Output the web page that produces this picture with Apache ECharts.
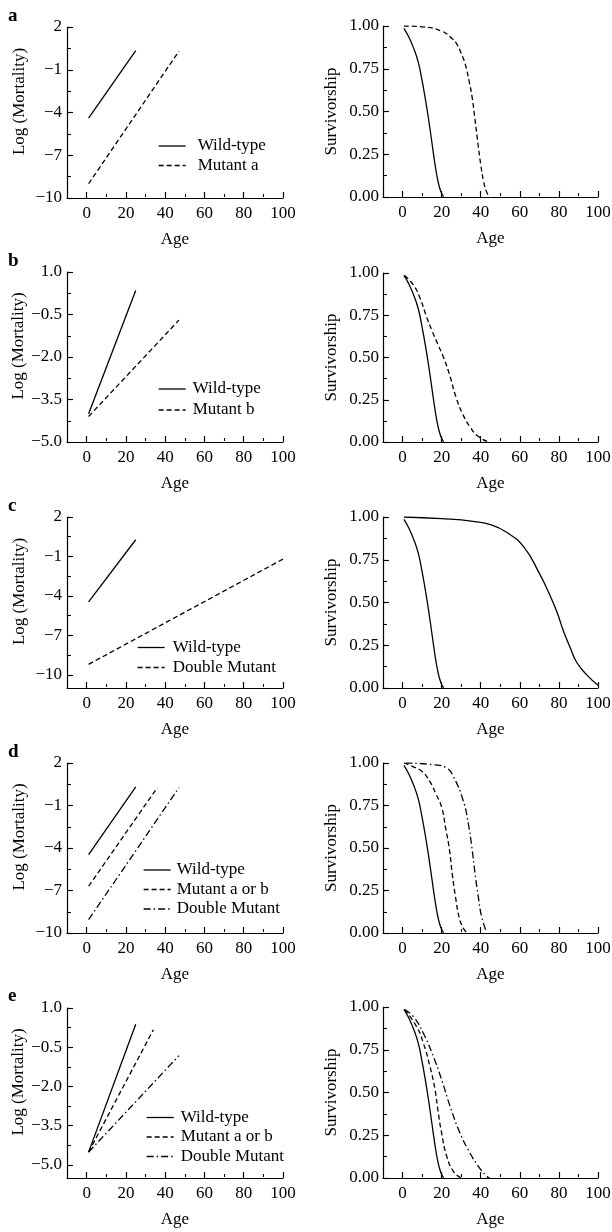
<!DOCTYPE html>
<html>
<head>
<meta charset="utf-8">
<script src="https://cdn.jsdelivr.net/npm/echarts@6/dist/echarts.min.js"></script>
<style>
  html, body { margin: 0; padding: 0; background: #fff; }
  #page { position: relative; width: 612px; height: 1232px; }
  .layer { position: absolute; left: 0; top: 0; width: 612px; height: 1232px; }
</style>
</head>
<body>
<div id="page"></div>
<script>
// axis ticks
var ageTicks = [0, 20, 40, 60, 80, 100];
var ageMinorTicks = [10, 30, 50, 70, 90];
var survTicks = [0, 0.25, 0.5, 0.75, 1];
var survMinorTicks = [0.125, 0.375, 0.625, 0.875];
var logTicksWide = [-10, -7, -4, -1, 2];
var logMinorWide = [-8.5, -5.5, -2.5, 0.5];
var logTicksNarrow = [-5, -3.5, -2, -0.5, 1];
var logMinorNarrow = [-4.25, -2.75, -1.25, 0.25];

// log mortality lines (age, value)
var aWildAge = [1, 25],   aWildLog = [-4.4, 0.35];
var aMutAge = [1, 47],    aMutLog = [-9.0, 0.3];
var bWildAge = [1, 25],   bWildLog = [-4.0, 0.35];
var bMutAge = [1, 47],    bMutLog = [-4.1, -0.7];
var cWildAge = [1, 25],   cWildLog = [-4.45, 0.27];
var cDblAge = [1, 100],   cDblLog = [-9.2, -1.2];
var dWildAge = [1, 25],   dWildLog = [-4.47, 0.31];
var dMutAge = [1, 36],    dMutLog = [-6.7, 0.26];
var dDblAge = [1, 47],    dDblLog = [-9.06, 0.26];
var eWildAge = [1, 25],   eWildLog = [-4.51, 0.38];
var eMutAge = [1, 34],    eMutLog = [-4.51, 0.17];
var eDblAge = [1, 47],    eDblLog = [-4.51, -0.82];

// survivorship curves
var wildSurvAge = [0.7, 3, 5.5, 8, 10, 12, 13.5, 15, 16.5, 18, 19.5, 21];
var wildSurv    = [0.986, 0.94, 0.875, 0.79, 0.68, 0.55, 0.44, 0.32, 0.2, 0.1, 0.035, 0];
var mutASurvAge = [0.7, 10, 20, 25, 28, 30, 32, 34, 35.5, 37, 38.5, 40, 41.5, 43, 44.5];
var mutASurv    = [1, 0.995, 0.97, 0.93, 0.89, 0.84, 0.78, 0.68, 0.59, 0.46, 0.32, 0.19, 0.09, 0.03, 0];
var mutBSurvAge = [1, 5.5, 9, 12, 15, 18, 21, 24, 27.5, 31, 34.5, 38.5, 44];
var mutBSurv    = [0.985, 0.93, 0.85, 0.75, 0.66, 0.58, 0.5, 0.4, 0.26, 0.16, 0.09, 0.035, 0];
var cDblSurvAge = [0.7, 20, 36, 45, 53, 62, 70, 75.5, 79, 82.5, 86, 89, 94.5, 100];
var cDblSurv    = [1, 0.99, 0.975, 0.955, 0.912, 0.825, 0.67, 0.54, 0.444, 0.327, 0.23, 0.152, 0.074, 0.016];
var dMutSurvAge = [0.7, 5, 10, 14, 17, 20, 22, 24, 25.5, 27, 29, 31, 33];
var dMutSurv    = [1, 0.98, 0.95, 0.89, 0.82, 0.74, 0.62, 0.49, 0.34, 0.22, 0.09, 0.03, 0];
var dDblSurvAge = [1.5, 15.7, 22.6, 26, 31, 33.7, 35.4, 37.1, 38.8, 40.5, 43];
var dDblSurv    = [1, 0.99, 0.97, 0.92, 0.78, 0.64, 0.51, 0.35, 0.21, 0.094, 0.006];
var eMutSurvAge = [1, 7.1, 10.6, 14, 16.6, 18.3, 20, 22.6, 26, 29.4, 30.5];
var eMutSurv    = [0.985, 0.887, 0.79, 0.653, 0.517, 0.38, 0.263, 0.127, 0.039, 0.004, 0];
var eDblSurvAge = [1, 5.45, 10.6, 15.7, 20, 24.3, 29.4, 34.5, 38.8, 43, 44.5];
var eDblSurv    = [0.985, 0.945, 0.848, 0.712, 0.575, 0.42, 0.263, 0.146, 0.068, 0.01, 0];

var FONT = '"Liberation Serif", "Times New Roman", serif';
var INK = '#000';
var SOLID = 'solid';
var DASH = [5, 3];
var DASHDOT = [7, 3, 1.5, 3];

var minus = function (v, digits) {
  var s = digits == null ? String(Math.abs(v)) : Math.abs(v).toFixed(digits);
  return (v < 0 ? '\u2212' : '') + s;
};
var fmtWide = function (v) { return minus(v); };
var fmtNarrow = function (v) { return minus(v, 1); };
var fmtSurv = function (v) { return v.toFixed(2); };

var zip = function (xs, ys) { return xs.map(function (x, i) { return [x, ys[i]]; }); };
var textBase = function (extra) {
  return Object.assign({ color: INK, fontFamily: FONT, fontSize: 17 }, extra || {});
};
var tickLine = function () { return { color: INK, width: 1.1 }; };

// axis carrying only tick marks, nudged 1px into the plot
function tickAxis(pos, min, max, values, len) {
  return {
    type: 'value', gridIndex: 0, min: min, max: max, position: pos, offset: -1,
    axisLine: { show: false, onZero: false }, axisLabel: { show: false }, splitLine: { show: false },
    axisTick: { show: true, inside: true, length: len, customValues: values, lineStyle: tickLine() }
  };
}

// each small plot gets its own chart layer (one grid per instance)
function panel(cfg) {
  var y = cfg.y;
  var option = {
    animation: false,
    title: [], legend: [],
    grid: [{ left: cfg.box[0], top: cfg.box[1], width: cfg.box[2], height: cfg.box[3], outerBoundsMode: 'none' }],
    xAxis: [{
      type: 'value', gridIndex: 0, min: -10, max: 100, position: 'bottom',
      name: 'Age', nameLocation: 'middle', nameGap: 33, nameTextStyle: textBase(),
      axisLine: { show: true, onZero: false, lineStyle: { color: INK, width: 1.2 } },
      axisTick: { show: true, inside: true, length: 6, customValues: ageTicks, lineStyle: tickLine() },
      axisLabel: textBase({ show: true, customValues: ageTicks, margin: 7 }),
      splitLine: { show: false }
    },
      tickAxis('bottom', -10, 100, ageTicks, 5),
      tickAxis('bottom', -10, 100, ageMinorTicks, 3)
    ],
    yAxis: [{
      type: 'value', gridIndex: 0, min: y.min, max: y.max, position: 'left',
      name: y.name, nameLocation: 'middle', nameGap: y.nameGap,
      nameTextStyle: textBase({ padding: y.namePad }),
      axisLine: { show: true, onZero: false, lineStyle: { color: INK, width: 1.2 } },
      axisTick: { show: true, inside: true, length: 5, customValues: y.ticks, lineStyle: tickLine() },
      axisLabel: textBase({ show: true, customValues: y.ticks, margin: y.margin, formatter: y.fmt }),
      splitLine: { show: false }
    },
      tickAxis('left', y.min, y.max, y.ticks, 5),
      tickAxis('left', y.min, y.max, y.minor, 3)
    ],
    series: cfg.lines.map(function (l) {
      return {
        type: 'line', name: l[0], xAxisIndex: 0, yAxisIndex: 0,
        data: zip(l[1], l[2]), symbol: 'none', silent: true,
        smooth: cfg.smooth ? 0.5 : false,
        lineStyle: { color: INK, width: 1.3, type: l[3] }
      };
    })
  };
  if (cfg.letter) {
    option.title.push({
      text: cfg.letter[0], left: 8, top: cfg.letter[1], padding: 0,
      textStyle: { color: INK, fontFamily: FONT, fontSize: 19, fontWeight: 'bold' }
    });
  }
  if (cfg.legend) {
    var lg = cfg.legend;
    option.legend.push({
      orient: 'vertical', left: lg.left, top: lg.top, padding: 0, itemGap: lg.gap,
      itemWidth: 27, itemHeight: 17, selectedMode: false,
      itemStyle: { opacity: 0 },
      textStyle: textBase({ padding: [0, 0, 0, lg.pad] }),
      data: cfg.lines.map(function (l) {
        return { name: l[0], itemStyle: { opacity: 0 }, lineStyle: { color: INK, width: 1.3, type: l[3] } };
      })
    });
  }
  var el = document.createElement('div');
  el.className = 'layer';
  document.getElementById('page').appendChild(el);
  echarts.init(el).setOption(option);
}

var logWide = { min: -10, max: 2, ticks: logTicksWide, minor: logMinorWide, fmt: fmtWide,
  name: 'Log (Mortality)', nameGap: 39, namePad: [0, 0, 0, 22], margin: 5 };
var logNarrow = { min: -5, max: 1, ticks: logTicksNarrow, minor: logMinorNarrow, fmt: fmtNarrow,
  name: 'Log (Mortality)', nameGap: 39, namePad: [0, 0, 0, 22], margin: 5 };
var surv = { min: 0, max: 1, ticks: survTicks, minor: survMinorTicks, fmt: fmtSurv,
  name: 'Survivorship', nameGap: 43, namePad: 0, margin: 4 };

// row a
panel({ box: [67, 27, 216, 171], y: logWide, letter: ['a', 7],
  legend: { left: 158, top: 137.5, gap: 2.5, pad: 7 },
  lines: [['Wild-type', aWildAge, aWildLog, SOLID], ['Mutant a', aMutAge, aMutLog, DASH]] });
panel({ box: [383, 26, 215, 171], y: surv, smooth: true,
  lines: [['Wild-type', wildSurvAge, wildSurv, SOLID], ['Mutant a', mutASurvAge, mutASurv, DASH]] });

// row b
panel({ box: [67, 272, 216, 170], y: logNarrow, letter: ['b', 252],
  legend: { left: 158, top: 380.5, gap: 4, pad: 2 },
  lines: [['Wild-type', bWildAge, bWildLog, SOLID], ['Mutant b', bMutAge, bMutLog, DASH]] });
panel({ box: [383, 273, 215, 169], y: surv, smooth: true,
  lines: [['Wild-type', wildSurvAge, wildSurv, SOLID], ['Mutant b', mutBSurvAge, mutBSurv, DASH]] });

// row c
panel({ box: [67, 517, 216, 171], y: Object.assign({}, logWide, { min: -11 }), letter: ['c', 497],
  legend: { left: 137, top: 639, gap: 3, pad: 3 },
  lines: [['Wild-type', cWildAge, cWildLog, SOLID], ['Double Mutant', cDblAge, cDblLog, DASH]] });
panel({ box: [383, 517, 215, 171], y: surv, smooth: true,
  lines: [['Wild-type', wildSurvAge, wildSurv, SOLID], ['Double Mutant', cDblSurvAge, cDblSurv, SOLID]] });

// row d
panel({ box: [67, 763, 216, 170], y: logWide, letter: ['d', 743],
  legend: { left: 143, top: 861.5, gap: 2.5, pad: 1 },
  lines: [['Wild-type', dWildAge, dWildLog, SOLID], ['Mutant a or b', dMutAge, dMutLog, DASH],
          ['Double Mutant', dDblAge, dDblLog, DASHDOT]] });
panel({ box: [383, 763, 215, 170], y: surv, smooth: true,
  lines: [['Wild-type', wildSurvAge, wildSurv, SOLID], ['Mutant a or b', dMutSurvAge, dMutSurv, DASH],
          ['Double Mutant', dDblSurvAge, dDblSurv, DASHDOT]] });

// row e
panel({ box: [67, 1008, 216, 170], y: Object.assign({}, logNarrow, { min: -5.5 }), letter: ['e', 987],
  legend: { left: 146, top: 1109, gap: 2.5, pad: 2 },
  lines: [['Wild-type', eWildAge, eWildLog, SOLID], ['Mutant a or b', eMutAge, eMutLog, DASH],
          ['Double Mutant', eDblAge, eDblLog, DASHDOT]] });
panel({ box: [383, 1007, 215, 171], y: surv, smooth: true,
  lines: [['Wild-type', wildSurvAge, wildSurv, SOLID], ['Mutant a or b', eMutSurvAge, eMutSurv, DASH],
          ['Double Mutant', eDblSurvAge, eDblSurv, DASHDOT]] });
</script>
</body>
</html>
